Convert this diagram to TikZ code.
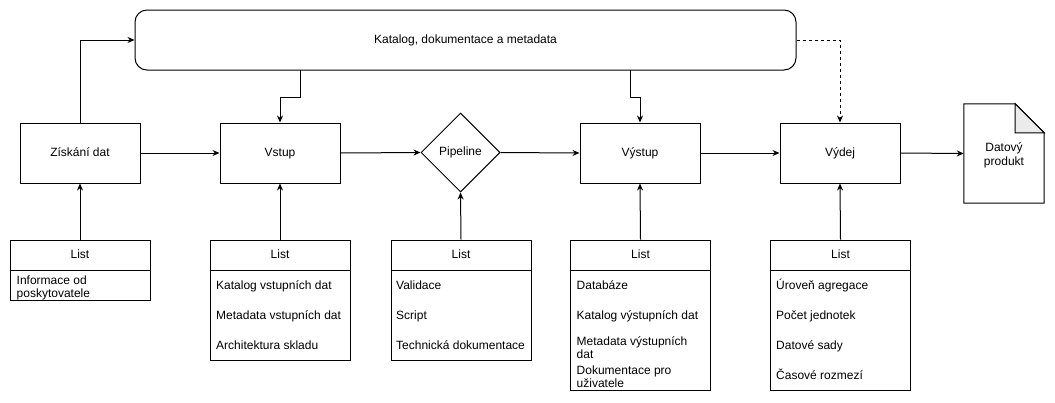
\documentclass[tikz,border=0pt]{standalone}
\usepackage{fontspec}
\setmainfont{Liberation Sans}
\usetikzlibrary{arrows.meta,shapes.geometric}
\begin{document}
\begin{tikzpicture}[x=1pt,y=-1pt,
  every node/.style={font=\fontsize{12}{14}\selectfont},
  box/.style={draw,line width=1pt,minimum width=120pt,minimum height=60pt,inner sep=0pt,text height=8.5pt,text depth=2.5pt},
  lhead/.style={draw,line width=1pt,minimum width=140pt,minimum height=30pt,inner sep=0pt,text height=8.5pt,text depth=2.5pt},
  lbody/.style={draw,line width=1pt,minimum width=140pt,inner sep=0pt},
  item/.style={anchor=base west,inner sep=0pt},
  arr/.style={line width=1pt,-{Stealth[length=7pt,width=6pt]}},
  dasharr/.style={arr,dash pattern=on 3pt off 3pt}]
\useasboundingbox (0,0) rectangle (1055,402);

% catalog
\node[draw,line width=1pt,rounded corners=12pt,minimum width=661pt,minimum height=60pt,inner sep=0pt] (cat) at (465.5,40) {Katalog, dokumentace a metadata};

% main boxes
\node[box] (zisk) at (80,153) {Získání dat};
\node[box] (vstup) at (280,153) {Vstup};
\node[draw,line width=1pt,diamond,aspect=1,minimum width=79pt,minimum height=79pt,inner sep=0pt] (pipe) at (460.5,152.5) {Pipeline};
\node[box] (vystup) at (640,153) {Výstup};
\node[box] (vydej) at (840,153) {Výdej};

% document
\node[minimum width=80pt,minimum height=99pt,inner sep=0pt,align=center] (doc) at (1004,153.5) {};
\draw[line width=1pt] (doc.north west) -- ([xshift=-29pt]doc.north east) -- ([yshift=-29pt]doc.north east) -- (doc.south east) -- (doc.south west) -- cycle;
\draw[line width=1pt,fill=black!8] ([xshift=-29pt]doc.north east) -- ([xshift=-29pt,yshift=-29pt]doc.north east) -- ([yshift=-29pt]doc.north east) -- cycle;
\node[align=center,inner sep=0pt] (doctext) at (1004,155) {Datový\\produkt};

% lists
\node[lhead] (l1) at (80,255) {List};
\node[lbody,minimum height=30pt] (l1b) at (80,285) {};
\node[item] (l1a) at (16.5,284) {Informace od};
\node[item] (l1c) at (16.5,297) {poskytovatele};

\node[lhead] (l2) at (280,255) {List};
\node[lbody,minimum height=90pt] (l2b) at (280,315) {};
\node[item] (l2a) at (216,289) {Katalog vstupních dat};
\node[item] (l2c) at (216,319) {Metadata vstupních dat};
\node[item] (l2d) at (216,349) {Architektura skladu};

\node[lhead] (l3) at (461,255) {List};
\node[lbody,minimum height=90pt] (l3b) at (461,315) {};
\node[item] (l3a) at (396,289) {Validace};
\node[item] (l3c) at (396,319) {Script};
\node[item] (l3d) at (396,349) {Technická dokumentace};

\node[lhead] (l4) at (640.5,255) {List};
\node[lbody,minimum height=120pt] (l4b) at (640.5,330) {};
\node[item] (l4a) at (576.5,289) {Databáze};
\node[item] (l4c) at (576.5,319) {Katalog výstupních dat};
\node[item] (l4d) at (576.5,345) {Metadata výstupních};
\node[item] (l4e) at (576.5,358) {dat};
\node[item] (l4f) at (576.5,374) {Dokumentace pro};
\node[item] (l4g) at (576.5,387) {uživatele};

\node[lhead] (l5) at (840.5,255) {List};
\node[lbody,minimum height=120pt] (l5b) at (840.5,330) {};
\node[item] (l5a) at (776,289) {Úroveň agregace};
\node[item] (l5c) at (776,319) {Počet jednotek};
\node[item] (l5d) at (776,349) {Datové sady};
\node[item] (l5e) at (776,379) {Časové rozmezí};

% connectors
\coordinate (c1) at (300,70);
\coordinate (c2) at (300,97);
\coordinate (c3) at (630,70);
\coordinate (c4) at (630,97);

\draw[arr] (zisk.north) |- (cat.west);
\draw[arr] (c1) -- (c2) -| (vstup.north);
\draw[arr] (c3) -- (c4) -| (vystup.north);
\draw[dasharr] (cat.east) -| (vydej.north);

\draw[arr] (zisk.east) -- (vstup.west);
\draw[arr] (vstup.east) -- (pipe.west);
\draw[arr] (pipe.east) -- (vystup.west);
\draw[arr] (vystup.east) -- (vydej.west);
\draw[arr] (vydej.east) -- (doc.west);

\draw[arr] (l1.north) -- (zisk.south);
\draw[arr] (l2.north) -- (vstup.south);
\draw[arr] (l3.north) -- (pipe.south);
\draw[arr] (l4.north) -- (vystup.south);
\draw[arr] (l5.north) -- (vydej.south);
\end{tikzpicture}
\end{document}
